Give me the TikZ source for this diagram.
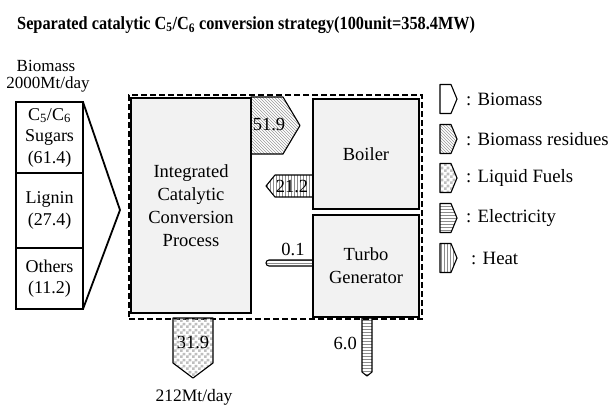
\documentclass[tikz,border=0pt]{standalone}
\usepackage{fontspec}
\setmainfont{Liberation Serif}
\usetikzlibrary{patterns}
\pgfdeclarepatternformonly{finecheck}{\pgfpointorigin}{\pgfqpoint{6pt}{6pt}}{\pgfqpoint{6pt}{6pt}}{%
  \pgfpathrectangle{\pgfpointorigin}{\pgfqpoint{3pt}{3pt}}%
  \pgfpathrectangle{\pgfqpoint{3pt}{3pt}}{\pgfqpoint{3pt}{3pt}}%
  \pgfusepath{fill}}
\begin{document}
\begin{tikzpicture}[x=1pt,y=-1pt,
  txt/.style={font=\fontsize{18.5}{23}\selectfont, inner sep=0pt, align=center},
  box/.style={draw=black, line width=2.8pt, fill=gray!10, inner sep=0pt, txt},
  colbox/.style={draw=black, line width=2.8pt, fill=white, inner sep=0pt, font=\fontsize{18}{21.5}\selectfont, align=center},
  dashbox/.style={draw=black, line width=1.8pt, dash pattern=on 6pt off 3pt, inner sep=0pt},
  flow/.style={draw=black, line width=1.1pt, line join=round},
  residue/.style={flow, pattern=north west lines, pattern color=gray!80},
  fuel/.style={flow, pattern=finecheck, pattern color=gray!50},
  elec/.style={flow, pattern=horizontal lines, pattern color=gray!90},
  heat/.style={flow, pattern=vertical lines, pattern color=gray!90},
  plain/.style={flow, fill=white},
  leg/.style={font=\fontsize{18.8}{22}\selectfont, inner sep=0pt, anchor=west}
]
\useasboundingbox (0,0) rectangle (609,405);
% title
\node[inner sep=0pt, anchor=west] (title) at (17,25)
  {\scalebox{0.88}[1]{\bfseries\fontsize{18.5}{20}\selectfont Separated catalytic C\textsubscript{5}/C\textsubscript{6} conversion strategy(100unit=358.4MW)}};
% system boundary
\node[dashbox, minimum width=293pt, minimum height=224pt] (sys) at (275.5,207) {};
% input label
\node[txt, font=\fontsize{17}{17}\selectfont] (bmlbl) at (46,66) {Biomass};
\node[txt, font=\fontsize{17}{17}\selectfont] (bmamt) at (48,84) {2000Mt/day};
% biomass arrow
\coordinate (tip) at (120,210);
\draw[line width=1.8pt, line join=miter, fill=white] (83,102) -- (tip) -- (83,309);
% composition column
\node[colbox, minimum width=67pt, minimum height=71pt] (sug) at (49.5,137.5)
  {C\textsubscript{5}/C\textsubscript{6}\\Sugars\\(61.4)};
\node[colbox, minimum width=67pt, minimum height=75pt] (lig) at (49.5,210.5)
  {Lignin\\(27.4)};
\node[colbox, minimum width=67pt, minimum height=61pt] (oth) at (49.5,278.5)
  {Others\\(11.2)};
% flows
\path[residue] (251,97) -- (283,97) -- (300,125.5) -- (283,154) -- (251,154) -- cycle;
\node[txt] (v519) at (269,125) {51.9};
\path[heat] (313,175) -- (275,175) -- (266,186) -- (275,197) -- (313,197) -- cycle;
\node[txt] (v212) at (292,186) {21.2};
\path[elec, rounded corners=3pt] (313,260) -- (266,260) -- (266,266) -- (313,266);
\node[txt, anchor=south] (v01) at (293,256) {0.1};
\path[fuel] (173,318) -- (213,318) -- (213,363) -- (193,378) -- (173,363) -- cycle;
\node[txt] (v319) at (193,342) {31.9};
\node[txt, font=\fontsize{17.5}{20}\selectfont] (out) at (194,397) {212Mt/day};
\path[elec] (362,318) -- (372,318) -- (372,372) -- (367,376) -- (362,372) -- cycle;
\node[txt, anchor=east] (v60) at (357,343) {6.0};
% units
\node[box, minimum width=120pt, minimum height=215pt] (iccp) at (191,205.5)
  {Integrated\\Catalytic\\Conversion\\Process};
\node[box, minimum width=106pt, minimum height=110pt] (boil) at (366,154) {Boiler};
\node[box, minimum width=106pt, minimum height=102pt] (turb) at (366,266) {Turbo\\Generator};
% legend
\foreach \yy/\sty/\nm/\lab/\lx in {99/plain/l1/{: Biomass}/466,139/residue/l2/{: Biomass residues}/466,178/fuel/l3/{: Liquid Fuels}/466,218/elec/l4/{: Electricity}/466,258/heat/l5/{: Heat}/471}{
  \path[\sty] (440,\yy-14.5) -- (451,\yy-14.5) -- (457,\yy) -- (451,\yy+14.5) -- (440,\yy+14.5) -- cycle;
  \node[leg] (\nm) at (\lx,\yy) {\lab};
}
\end{tikzpicture}
\end{document}
